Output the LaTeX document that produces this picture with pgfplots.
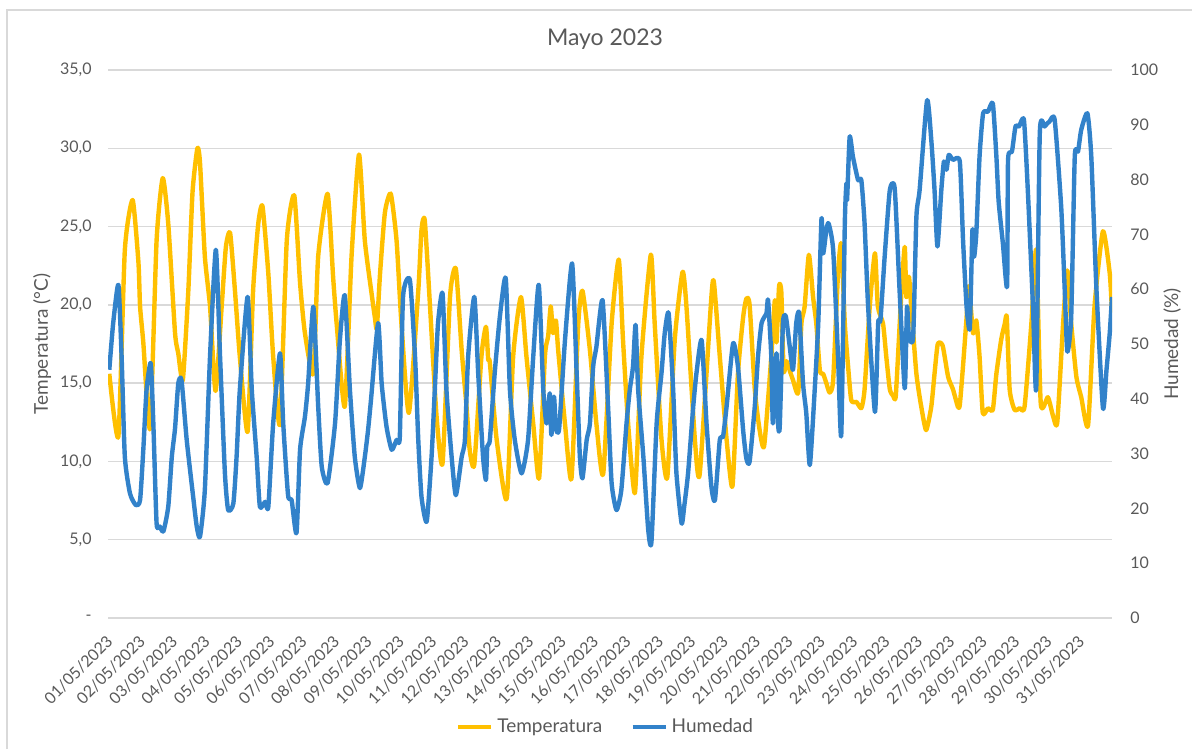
\documentclass[border=0pt]{standalone}
\usepackage{pgfplots}
\pgfplotsset{compat=1.18}
\usepackage{fontspec}
\setmainfont{Lato}
\definecolor{tcol}{RGB}{255,192,0}
\definecolor{hcol}{RGB}{50,130,202}
\definecolor{txt}{RGB}{89,89,89}
\definecolor{grd}{RGB}{217,217,217}
\begin{document}
\begin{tikzpicture}
\begin{axis}[name=ax, scale only axis, width=502pt, height=274pt,
  xmin=0, xmax=31, ymin=0, ymax=35,
  axis line style={draw=none}, major tick length=0pt,
  xtick={0,...,30},
  xticklabels={01/05/2023,02/05/2023,03/05/2023,04/05/2023,05/05/2023,06/05/2023,07/05/2023,08/05/2023,09/05/2023,10/05/2023,11/05/2023,12/05/2023,13/05/2023,14/05/2023,15/05/2023,16/05/2023,17/05/2023,18/05/2023,19/05/2023,20/05/2023,21/05/2023,22/05/2023,23/05/2023,24/05/2023,25/05/2023,26/05/2023,27/05/2023,28/05/2023,29/05/2023,30/05/2023,31/05/2023},
  ytick={0,5,...,35},
  yticklabels={{-\hspace{7pt}},{5,0},{10,0},{15,0},{20,0},{25,0},{30,0},{35,0}},
  ymajorgrids, grid style={grd, line width=0.75pt},
  tick label style={font=\fontsize{8}{9.6}\selectfont, text=txt},
  xticklabel style={xshift=-1.3pt, yshift=-7.8pt, rotate=45, anchor=north east, inner sep=0pt},
  yticklabel style={inner sep=0pt, xshift=-8pt},
  title={Mayo 2023},
  title style={at={(0.5,1)}, anchor=base, inner sep=0pt, yshift=6pt, xshift=-2.5pt, font=\fontsize{11.5}{14}\selectfont, text=txt},
  ylabel={Temperatura (°C)},
  ylabel style={at={(axis description cs:-0.0657,0.5)}, anchor=center, font=\fontsize{9.5}{11}\selectfont, text=txt},
  clip=true]
\addplot[tcol, line width=2.2pt, smooth, tension=0.35, line join=round] coordinates {
(0.04,15.6)(0.32,11.6)(0.52,23.5)(0.76,26.7)(0.94,22.7)(0.99,19.9)(1.09,17.6)(1.30,12.1)(1.50,24.1)(1.69,28.1)(1.86,25.2)(2.07,18.2)(2.17,16.9)(2.31,15.2)(2.48,20.9)(2.61,27.2)(2.76,30.0)(2.84,29.1)(2.99,23.1)(3.15,19.9)(3.32,14.5)(3.51,19.9)(3.64,23.7)(3.77,24.6)(3.92,20.9)(4.07,16.7)(4.31,11.9)(4.48,20.9)(4.64,25.2)(4.77,26.3)(4.95,22.0)(5.10,16.7)(5.31,12.4)(5.52,24.1)(5.75,27.0)(5.93,21.4)(6.08,18.2)(6.34,15.6)(6.49,23.1)(6.78,27.1)(6.95,21.8)(7.06,18.8)(7.31,13.5)(7.52,23.1)(7.75,29.6)(7.93,24.1)(8.14,20.7)(8.24,19.2)(8.30,18.5)(8.40,22.0)(8.55,25.9)(8.73,27.1)(8.91,24.1)(9.06,18.8)(9.29,13.1)(9.58,20.9)(9.68,24.8)(9.78,25.4)(9.94,20.0)(10.14,13.0)(10.33,9.9)(10.56,20.5)(10.74,22.3)(10.92,17.1)(11.07,13.5)(11.17,10.7)(11.31,9.8)(11.53,16.7)(11.67,18.6)(11.74,16.5)(11.79,16.3)(12.00,11.4)(12.31,7.6)(12.51,16.7)(12.75,20.5)(12.92,16.7)(13.13,12.4)(13.31,8.9)(13.49,16.7)(13.59,18.0)(13.67,19.9)(13.74,18.2)(13.83,19.0)(13.90,17.1)(14.11,12.4)(14.31,8.9)(14.52,18.8)(14.65,20.9)(14.88,17.1)(15.08,12.4)(15.29,9.2)(15.55,18.8)(15.77,22.9)(15.90,17.8)(16.06,12.4)(16.27,8.0)(16.47,16.7)(16.76,23.2)(16.88,18.8)(17.09,11.4)(17.27,9.0)(17.50,17.8)(17.74,22.1)(17.86,19.9)(18.12,11.4)(18.27,9.2)(18.63,20.5)(18.71,21.4)(18.89,16.7)(19.10,11.4)(19.28,8.4)(19.45,15.6)(19.61,19.2)(19.71,20.4)(19.81,20.0)(19.97,14.6)(20.12,12.0)(20.26,11.0)(20.48,16.7)(20.59,20.3)(20.64,17.6)(20.72,21.2)(20.79,20.8)(20.86,15.8)(20.95,16.4)(21.05,15.8)(21.15,15.2)(21.31,14.4)(21.41,18.8)(21.51,19.9)(21.64,23.2)(21.77,20.5)(21.87,18.8)(21.98,15.8)(22.08,15.6)(22.18,15.0)(22.28,14.4)(22.39,15.2)(22.54,22.0)(22.64,23.9)(22.75,18.8)(22.85,16.1)(22.95,13.9)(23.11,13.8)(23.26,13.4)(23.36,14.6)(23.52,19.9)(23.68,23.3)(23.77,19.9)(23.93,18.8)(24.03,16.7)(24.14,14.6)(24.24,14.2)(24.32,14.1)(24.42,17.8)(24.50,20.9)(24.60,23.7)(24.65,20.5)(24.73,21.8)(24.80,19.9)(24.96,15.6)(25.11,13.5)(25.26,12.0)(25.42,13.5)(25.52,15.6)(25.62,17.5)(25.77,17.4)(25.94,15.4)(26.09,14.6)(26.24,13.5)(26.30,13.6)(26.40,16.1)(26.51,19.2)(26.58,21.2)(26.71,18.2)(26.81,19.0)(26.91,16.7)(27.01,13.1)(27.17,13.4)(27.32,13.3)(27.43,15.6)(27.58,17.8)(27.69,18.8)(27.75,19.2)(27.84,14.6)(27.99,13.3)(28.15,13.4)(28.30,13.5)(28.51,18.8)(28.66,23.5)(28.80,13.7)(29.02,14.1)(29.18,12.9)(29.31,12.5)(29.49,18.8)(29.62,22.2)(29.74,18.8)(29.90,15.4)(30.05,14.1)(30.26,12.3)(30.46,19.9)(30.72,24.7)(30.93,22.0)(31.0,19.5)
};
\end{axis}
\begin{axis}[scale only axis, width=502pt, height=274pt,
  xmin=0, xmax=31, ymin=0, ymax=100,
  hide x axis, axis line style={draw=none}, major tick length=0pt,
  yticklabel pos=right,
  ytick={0,10,...,100},
  yticklabels={0,10,20,30,40,50,60,70,80,90,100},
  tick label style={font=\fontsize{8}{9.6}\selectfont, text=txt},
  yticklabel style={inner sep=0pt, anchor=west, xshift=9pt},
  ylabel={Humedad (\%)},
  ylabel style={at={(axis description cs:1.0598,0.5)}, anchor=center, rotate=0, font=\fontsize{9.5}{11}\selectfont, text=txt},
  legend style={at={(0.5,0)}, anchor=center, yshift=-54.5pt, xshift=-1.75pt, draw=none, fill=none, legend columns=2, font=\fontsize{9.5}{11}\selectfont, text=txt, /tikz/every even column/.append style={column sep=12pt}},
  legend image code/.code={\draw[#1] (0pt,0pt) -- (16.5pt,0pt);},
  clip=true]
\addlegendimage{tcol, line width=2.2pt}
\addlegendentry{Temperatura}
\addplot[hcol, line width=2.2pt, smooth, tension=0.35, line join=round] coordinates {
(0.04,45.3)(0.16,53.8)(0.32,60.8)(0.42,47.7)(0.52,29.4)(0.68,22.7)(0.86,20.6)(0.99,21.5)(1.09,30.7)(1.19,41.6)(1.32,46.5)(1.40,35.5)(1.50,17.3)(1.60,16.7)(1.71,15.8)(1.86,20.3)(1.97,29.4)(2.07,34.6)(2.17,42.8)(2.27,43.4)(2.43,32.5)(2.63,22.1)(2.74,16.7)(2.84,14.8)(2.99,23.4)(3.15,47.7)(3.33,67.2)(3.46,47.7)(3.61,26.4)(3.71,19.7)(3.87,20.9)(3.97,29.4)(4.07,41.6)(4.31,58.6)(4.44,41.6)(4.59,29.4)(4.69,20.3)(4.85,21.2)(4.95,20.3)(5.10,35.5)(5.31,48.3)(5.41,35.5)(5.56,22.4)(5.67,21.5)(5.82,15.5)(5.93,30.7)(6.08,36.7)(6.18,42.8)(6.34,56.8)(6.49,38.6)(6.60,27.6)(6.78,24.6)(7.01,35.5)(7.16,50.7)(7.31,58.9)(7.47,41.6)(7.62,29.4)(7.78,23.7)(7.93,29.4)(8.03,34.3)(8.12,39.8)(8.34,53.8)(8.45,42.8)(8.60,34.9)(8.76,30.7)(8.91,32.5)(9.01,33.1)(9.11,58.6)(9.32,61.7)(9.48,47.7)(9.58,32.5)(9.68,22.1)(9.84,17.6)(9.99,29.4)(10.09,41.6)(10.19,53.8)(10.33,59.2)(10.45,41.6)(10.61,29.4)(10.74,22.4)(10.92,29.4)(11.02,32.5)(11.12,47.7)(11.31,58.6)(11.43,44.7)(11.58,29.4)(11.67,25.2)(11.71,31.3)(11.79,32.5)(11.94,44.7)(12.10,55.0)(12.28,62.0)(12.41,41.6)(12.56,32.5)(12.77,26.4)(12.97,32.5)(13.13,47.7)(13.30,60.8)(13.44,41.6)(13.54,35.5)(13.64,41.0)(13.69,33.4)(13.77,40.4)(13.83,34.6)(13.93,34.6)(14.11,50.7)(14.33,64.7)(14.47,44.7)(14.57,29.4)(14.65,25.5)(14.78,32.5)(14.88,35.5)(14.98,45.9)(15.08,49.5)(15.27,58.0)(15.44,38.6)(15.55,24.6)(15.70,19.7)(15.85,23.4)(16.01,35.5)(16.11,41.6)(16.21,45.9)(16.29,53.5)(16.37,41.6)(16.53,29.4)(16.68,16.1)(16.78,13.9)(16.94,35.5)(17.09,44.7)(17.19,52.0)(17.31,55.6)(17.45,41.6)(17.55,26.5)(17.71,17.3)(17.79,20.3)(17.91,26.4)(18.07,38.6)(18.17,44.7)(18.33,50.7)(18.48,35.5)(18.63,24.0)(18.74,21.5)(18.89,32.5)(18.99,33.1)(19.10,38.6)(19.30,50.1)(19.45,45.9)(19.61,34.3)(19.71,29.1)(19.81,28.5)(19.97,38.6)(20.07,47.7)(20.18,53.8)(20.33,55.6)(20.38,58.0)(20.48,47.7)(20.53,35.5)(20.64,48.3)(20.69,35.5)(20.74,34.9)(20.84,53.8)(20.93,55.0)(21.05,49.5)(21.15,45.3)(21.25,53.8)(21.34,55.6)(21.46,42.8)(21.56,37.4)(21.67,27.9)(21.82,41.6)(21.93,53.8)(22.03,72.9)(22.08,66.5)(22.18,70.8)(22.25,72.0)(22.39,67.2)(22.54,47.7)(22.64,33.4)(22.75,72.0)(22.80,79.3)(22.82,76.3)(22.90,87.8)(23.00,84.2)(23.16,79.9)(23.26,79.9)(23.36,72.0)(23.47,56.8)(23.68,37.6)(23.78,53.8)(23.85,54.4)(23.98,65.9)(24.14,78.1)(24.29,78.4)(24.44,59.9)(24.60,41.9)(24.67,56.8)(24.73,51.3)(24.86,51.3)(24.96,73.2)(25.06,78.1)(25.29,94.5)(25.42,87.2)(25.52,78.1)(25.61,67.8)(25.73,78.1)(25.81,83.3)(25.89,81.8)(25.96,84.5)(26.09,83.6)(26.30,83.3)(26.40,69.0)(26.51,56.8)(26.61,52.9)(26.69,70.8)(26.74,65.9)(26.81,70.2)(26.91,84.2)(27.02,92.1)(27.17,92.4)(27.32,93.9)(27.43,84.2)(27.50,76.0)(27.63,68.4)(27.76,60.5)(27.79,83.6)(27.91,85.1)(28.02,89.7)(28.13,89.7)(28.28,90.9)(28.40,78.1)(28.56,56.8)(28.66,41.9)(28.77,88.4)(28.92,89.7)(29.07,90.6)(29.23,90.9)(29.43,75.1)(29.54,59.9)(29.62,48.6)(29.74,55.0)(29.85,84.2)(29.95,85.1)(30.05,89.1)(30.24,92.1)(30.36,84.2)(30.52,59.9)(30.72,38.3)(30.83,45.3)(30.93,52.0)(31.0,58.6)
};
\addlegendentry{Humedad}
\end{axis}
\coordinate (BL) at ([shift={(-54pt,-65.5pt)}]ax.south west);
\coordinate (TR) at ([shift={(40pt,35pt)}]ax.north east);
\useasboundingbox (BL) rectangle (TR);
\draw[grd, line width=0.75pt] ([xshift=3.5pt]BL) |- ([yshift=-5pt]TR);
\end{tikzpicture}
\end{document}
